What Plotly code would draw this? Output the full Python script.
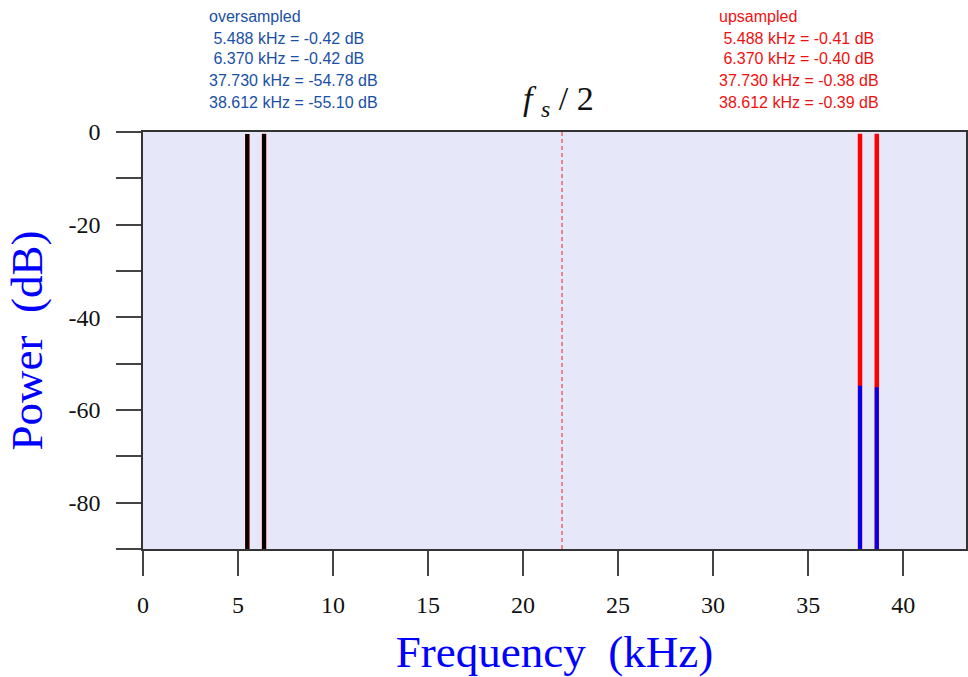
import plotly.graph_objects as go

# Data
tone_freqs = [5.488, 6.370, 37.730, 38.612]          # kHz
oversampled_db = [-0.42, -0.42, -54.78, -55.10]
upsampled_db = [-0.41, -0.40, -0.38, -0.39]
fs_half = 22.05
floor_db = -90
x_ticks = [0, 5, 10, 15, 20, 25, 30, 35, 40]
y_ticks = [0, -20, -40, -60, -80]
y_tick_labels = ["0", "-20", "-40", "-60", "-80"]
y_minor_ticks = [-10, -30, -50, -70, -90]

W, H = 968, 677
L, R, T, B = 143, 0, 132, 128
px_per_khz = 19.05
x_max = (W - L - R) / px_per_khz

fig = go.Figure()

# upsampled (red) lines
for f, v in zip(tone_freqs, upsampled_db):
    fig.add_trace(go.Scatter(x=[f, f], y=[floor_db, v], mode="lines",
                             line=dict(color="#ff0000", width=4.5),
                             showlegend=False, hoverinfo="skip"))
# oversampled lines: black in baseband, blue for images
for f, v in zip(tone_freqs, oversampled_db):
    col = "#000000" if f < fs_half else "#0000ee"
    fig.add_trace(go.Scatter(x=[f, f], y=[floor_db, v], mode="lines",
                             line=dict(color=col, width=4),
                             showlegend=False, hoverinfo="skip"))

# fs/2 dashed line
fig.add_trace(go.Scatter(x=[fs_half, fs_half], y=[floor_db, 0], mode="lines",
                         line=dict(color="#ee2222", width=1, dash="4px,3px"),
                         showlegend=False, hoverinfo="skip"))

plot_w = W - L - R
plot_h = H - T - B


def px_to_paper_x(px):
    return (px - L) / plot_w


def px_to_paper_y(py):
    return (H - B - py) / plot_h


annotations = []
blue_lines = ["oversampled"] + [
    ("\u00a0" if i < 2 else "") + f"{f:.3f} kHz = {v:.2f} dB"
    for i, (f, v) in enumerate(zip(tone_freqs, oversampled_db))]
red_lines = ["upsampled"] + [
    ("\u00a0" if i < 2 else "") + f"{f:.3f} kHz = {v:.2f} dB"
    for i, (f, v) in enumerate(zip(tone_freqs, upsampled_db))]
line_y = [17, 38, 59, 80, 102]
for txt, yy in zip(blue_lines, line_y):
    annotations.append(dict(text=txt, x=px_to_paper_x(207), y=px_to_paper_y(yy),
                            xref="paper", yref="paper", xanchor="left", yanchor="middle",
                            showarrow=False,
                            font=dict(family="Liberation Sans, Arial", size=16, color="#1a50a5")))
for txt, yy in zip(red_lines, line_y):
    annotations.append(dict(text=txt, x=px_to_paper_x(718), y=px_to_paper_y(yy),
                            xref="paper", yref="paper", xanchor="left", yanchor="middle",
                            showarrow=False,
                            font=dict(family="Liberation Sans, Arial", size=16, color="#ee1111")))

annotations.append(dict(text="<i>f</i> <sub><i>s</i></sub> / 2", x=fs_half - 0.2, y=px_to_paper_y(101),
                        xref="x", yref="paper", xanchor="center", yanchor="middle",
                        showarrow=False,
                        font=dict(family="Liberation Serif, Times New Roman", size=34, color="#111111")))

axis_common = dict(showgrid=False, zeroline=False, showline=True, linecolor="#333333",
                   linewidth=1.5, ticks="outside", ticklen=25, tickwidth=1.5, tickcolor="#444444",
                   tickfont=dict(family="Liberation Serif, Times New Roman", size=24, color="#111111"))

fig.update_layout(
    width=W, height=H,
    margin=dict(l=L, r=R, t=T, b=B, pad=0),
    paper_bgcolor="white",
    plot_bgcolor="#e7e7fa",
    xaxis=dict(range=[0, x_max], tickvals=x_ticks, ticktext=[str(v) for v in x_ticks],
               mirror=True, ticklabelstandoff=8,
               title=dict(text="Frequency  (kHz)", standoff=20,
                          font=dict(family="Liberation Serif, Times New Roman", size=45, color="#0000ff")),
               **axis_common),
    yaxis=dict(range=[floor_db, 0], tickvals=y_ticks, ticktext=y_tick_labels, mirror=True,
               ticklabelstandoff=11,
               minor=dict(tickvals=y_minor_ticks, ticks="outside", ticklen=25, tickwidth=1.5,
                          tickcolor="#444444", showgrid=False),
               title=dict(text="Power  (dB)", standoff=12,
                          font=dict(family="Liberation Serif, Times New Roman", size=45, color="#0000ff")),
               **axis_common),
    annotations=annotations,
)

fig.write_html("out.html", config={"displayModeBar": False},
               post_script="document.body.style.margin='0';")
